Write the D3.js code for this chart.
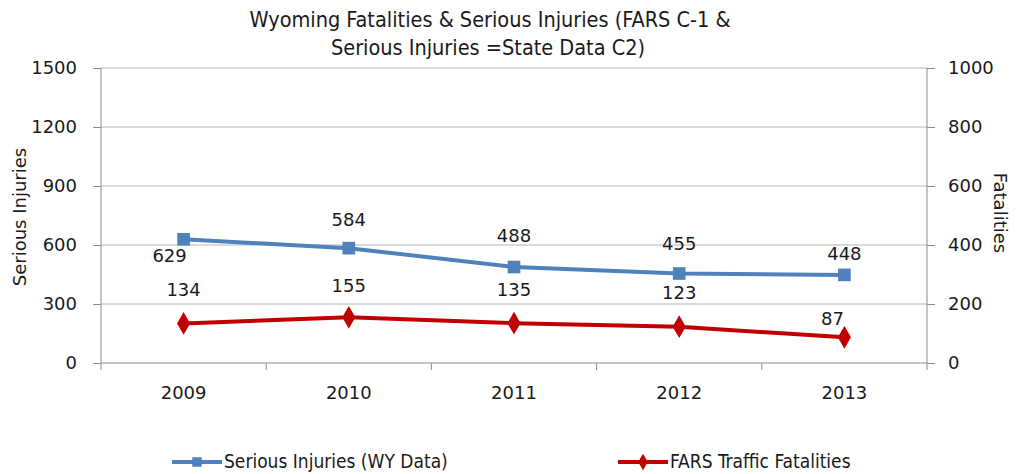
<!DOCTYPE html>
<html>
<head>
<meta charset="utf-8">
<script src="https://cdn.jsdelivr.net/npm/d3@7"></script>
<style>
  body { margin: 0; background: #fff; }
  svg text { fill: #1a1a1a; }
  .narrow { font-family: "Liberation Sans Narrow", "DejaVu Sans Condensed", "Open Sans", sans-serif; }
  .wide { font-family: "DejaVu Sans", Verdana, sans-serif; }
</style>
</head>
<body>
<svg id="chart" width="1018" height="474"></svg>
<script>
const years = ["2009", "2010", "2011", "2012", "2013"];
const seriousInjuries = [629, 584, 488, 455, 448];
const fatalities = [134, 155, 135, 123, 87];
const leftTicks = [0, 300, 600, 900, 1200, 1500];
const rightTicks = [0, 200, 400, 600, 800, 1000];

// label offsets (dx, dy) relative to each marker, as Excel placed them
const injuryLabelPos = [[-14, 16], [0, -28], [0, -31], [0, -30], [0, -21]];
const fatalLabelPos = [[0, -34], [0, -32], [0, -33], [0, -34], [-12, -19]];

(function() {
    const svg = d3.select("#chart");
    const left = 101, right = 927, top = 68, bottom = 363;
    const fs = "18px";

    const x = d3.scaleBand().domain(years).range([left, right]);
    const yL = d3.scaleLinear().domain([0, 1500]).range([bottom, top]);
    const yR = d3.scaleLinear().domain([0, 1000]).range([bottom, top]);
    const cx = d => x(d) + x.bandwidth() / 2;

    // gridlines
    svg.append("g").selectAll("line")
        .data(leftTicks.slice(1))
        .enter().append("line")
        .attr("x1", left).attr("x2", right)
        .attr("y1", d => yL(d)).attr("y2", d => yL(d))
        .attr("stroke", "#b4b4b4").attr("stroke-width", 1);

    const axisStyle = g => {
        g.select(".domain").attr("stroke", "#8c8c8c");
        g.selectAll(".tick line").attr("stroke", "#8c8c8c");
        g.selectAll(".tick text").attr("class", "wide").style("font-size", fs).attr("fill", "#1a1a1a");
    };

    svg.append("g")
        .attr("transform", `translate(${left},0)`)
        .call(d3.axisLeft(yL).tickValues(leftTicks).tickFormat(d3.format("d"))
            .tickSizeInner(8).tickSizeOuter(0).tickPadding(16))
        .call(axisStyle)
        .call(g => g.select(".domain").attr("d", `M0,${bottom + 7}V${top}`));

    svg.append("g")
        .attr("transform", `translate(${right},0)`)
        .call(d3.axisRight(yR).tickValues(rightTicks).tickFormat(d3.format("d"))
            .tickSizeInner(8).tickSizeOuter(0).tickPadding(13))
        .call(axisStyle)
        .call(g => g.select(".domain").attr("d", `M0,${bottom + 7}V${top}`));

    // x axis: ticks between categories
    const xAxis = svg.append("g").attr("transform", `translate(0,${bottom})`);
    xAxis.append("line").attr("x1", left).attr("x2", right)
        .attr("stroke", "#8c8c8c");
    xAxis.selectAll("line.tk")
        .data(years.slice(1))
        .enter().append("line")
        .attr("class", "tk")
        .attr("x1", d => x(d)).attr("x2", d => x(d))
        .attr("y1", 0).attr("y2", 7)
        .attr("stroke", "#8c8c8c");
    xAxis.selectAll("text")
        .data(years)
        .enter().append("text")
        .attr("class", "wide")
        .attr("x", cx).attr("y", 30)
        .attr("dy", "0.35em")
        .attr("text-anchor", "middle")
        .style("font-size", fs)
        .text(d => d);

    // lines
    const injLine = d3.line().x((d, i) => cx(years[i])).y(d => yL(d));
    const fatLine = d3.line().x((d, i) => cx(years[i])).y(d => yR(d));

    svg.append("path").datum(seriousInjuries)
        .attr("d", injLine).attr("fill", "none")
        .attr("stroke", "#4f81bd").attr("stroke-width", 4);
    svg.append("path").datum(fatalities)
        .attr("d", fatLine).attr("fill", "none")
        .attr("stroke", "#c00000").attr("stroke-width", 4);

    const square = d3.symbol().type(d3.symbolSquare).size(160);
    const diamond = d3.symbol().type(d3.symbolDiamond).size(150);

    svg.append("g").selectAll("path")
        .data(seriousInjuries)
        .enter().append("path")
        .attr("d", square)
        .attr("transform", (d, i) => `translate(${cx(years[i])},${yL(d)})`)
        .attr("fill", "#4f81bd");
    svg.append("g").selectAll("path")
        .data(fatalities)
        .enter().append("path")
        .attr("d", diamond)
        .attr("transform", (d, i) => `translate(${cx(years[i])},${yR(d)})`)
        .attr("fill", "#c00000");

    // data labels
    svg.append("g").selectAll("text")
        .data(seriousInjuries)
        .enter().append("text")
        .attr("class", "wide")
        .attr("x", (d, i) => cx(years[i]) + injuryLabelPos[i][0])
        .attr("y", (d, i) => yL(d) + injuryLabelPos[i][1])
        .attr("dy", "0.35em")
        .attr("text-anchor", "middle")
        .style("font-size", fs)
        .text(d => d);
    svg.append("g").selectAll("text")
        .data(fatalities)
        .enter().append("text")
        .attr("class", "wide")
        .attr("x", (d, i) => cx(years[i]) + fatalLabelPos[i][0])
        .attr("y", (d, i) => yR(d) + fatalLabelPos[i][1])
        .attr("dy", "0.35em")
        .attr("text-anchor", "middle")
        .style("font-size", fs)
        .text(d => d);

    // title
    const title = svg.append("text").attr("class", "narrow")
        .attr("text-anchor", "middle").style("font-size", "21.5px");
    title.append("tspan").attr("x", 490).attr("y", 27).text("Wyoming Fatalities  & Serious Injuries (FARS C-1  &");
    title.append("tspan").attr("x", 488).attr("y", 55).text("Serious Injuries =State  Data C2)");

    // axis titles
    svg.append("text").attr("class", "wide")
        .attr("transform", "translate(20,217) rotate(-90)")
        .attr("text-anchor", "middle").attr("dy", "0.35em")
        .style("font-size", fs)
        .text("Serious Injuries");
    svg.append("text").attr("class", "wide")
        .attr("transform", "translate(1000,213) rotate(90)")
        .attr("text-anchor", "middle").attr("dy", "0.35em")
        .style("font-size", fs)
        .text("Fatalities");

    // legend
    const legend = [
        { name: "Serious Injuries (WY Data)", color: "#4f81bd", sym: d3.symbol().type(d3.symbolSquare).size(90), x: 172 },
        { name: "FARS Traffic Fatalities", color: "#c00000", sym: d3.symbol().type(d3.symbolDiamond).size(80), x: 618 }
    ];
    const lg = svg.append("g").selectAll("g")
        .data(legend)
        .enter().append("g")
        .attr("transform", d => `translate(${d.x},462)`);
    lg.append("line").attr("x1", 0).attr("x2", 50)
        .attr("stroke", d => d.color).attr("stroke-width", 4);
    lg.append("path").attr("d", d => d.sym()).attr("transform", "translate(25,0)")
        .attr("fill", d => d.color);
    lg.append("text").attr("class", "narrow")
        .attr("x", 52).attr("dy", "0.3em")
        .style("font-size", "19px")
        .text(d => d.name);
})();
</script>
</body>
</html>
